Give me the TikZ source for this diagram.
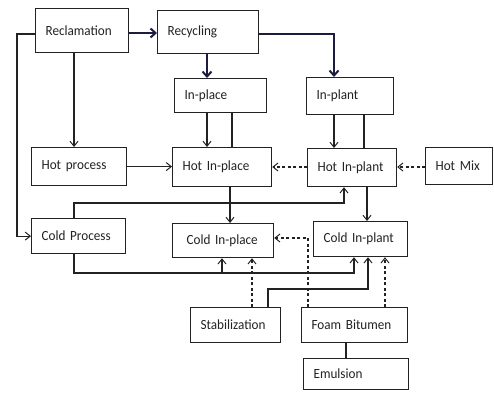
\documentclass[tikz,border=0pt]{standalone}
\usepackage{fontspec}
\setmainfont{Carlito}[FakeStretch=0.94]
\usetikzlibrary{arrows.meta}
\definecolor{ink}{HTML}{222222}
\definecolor{navy}{HTML}{1C1C40}
\hyphenpenalty=10000
\exhyphenpenalty=10000
\begin{document}
\begin{tikzpicture}[x=1pt,y=-1pt,
  box/.style={draw=ink, line width=1.2pt, rectangle, anchor=north west, inner xsep=10pt, inner ysep=0pt, align=left, text=ink, font=\fontsize{14}{16}\selectfont},
  conn/.style={draw=ink, line width=1.2pt},
  arr/.style={conn, -{Straight Barb[length=5pt,width=8pt,line width=1pt]}},
  darr/.style={arr, dashed, dash pattern=on 3pt off 2.5pt},
  thickarr/.style={draw=navy, line width=2.4pt, -{Straight Barb[length=5pt,width=9pt,line width=2pt]}}]
\useasboundingbox (0,0) rectangle (494,393);
% boxes
\node[box, text width=73pt, minimum height=44pt] (recl) at (35,8) {Reclamation};
\node[box, text width=81pt, minimum height=43pt] (recy) at (157,10) {Recycling};
\node[box, text width=72pt, minimum height=34pt] (inplace) at (174,78) {In-place};
\node[box, text width=67pt, minimum height=37pt] (inplant) at (306,77) {In-plant};
\node[box, text width=75pt, minimum height=38pt] (hotproc) at (31,147) {Hot process};
\node[box, text width=79pt, minimum height=39pt] (hotinplace) at (172,147) {Hot In-place};
\node[box, text width=69pt, minimum height=38pt] (hotinplant) at (307,148) {Hot In-plant};
\node[box, text width=47pt, minimum height=37pt] (hotmix) at (425,147) {Hot Mix};
\node[box, text width=74pt, minimum height=35pt] (coldproc) at (31,218) {Cold Process};
\node[box, minimum height=34pt, inner xsep=14pt, text width=73pt] (coldinplace) at (172,223) {Cold In-place};
\node[box, text width=74pt, minimum height=35pt] (coldinplant) at (313,221) {Cold In-plant};
\node[box, text width=70pt, minimum height=35pt] (stab) at (190,307) {Stabilization};
\node[box, text width=86pt, minimum height=35pt] (foam) at (301,307) {Foam Bitumen};
\node[box, text width=85pt, minimum height=31pt] (emul) at (303,358) {Emulsion};
% corner coordinates
\coordinate (rL) at (17,34);
\coordinate (cpTop) at (74,203);
\coordinate (cpBot) at (74,273);
\coordinate (stTurn) at (268,289);
\coordinate (fbTurn) at (308,238);
% thick recycling arrows
\draw[thickarr] (recl.east |- 0,33) -- (recy.west |- 0,33);
\draw[thickarr] (recy.east |- 0,34) -| (334,0 |- inplant.north);
\draw[thickarr] (207,0 |- recy.south) -- (207,0 |- inplace.north);
% reclamation branches
\draw[arr] (74,0 |- recl.south) -- (74,0 |- hotproc.north);
\draw[arr] (recl.west |- rL) -- (rL) |- (coldproc.west);
% hot level
\draw[arr] (hotproc.east) -- (hotproc.east -| hotinplace.west);
\draw[arr] (207,0 |- inplace.south) -- (207,0 |- hotinplace.north);
\draw[conn] (232,0 |- inplace.south) -- (232,0 |- hotinplace.north);
\draw[arr] (334,0 |- inplant.south) -- (334,0 |- hotinplant.north);
\draw[conn] (364,0 |- inplant.south) -- (364,0 |- hotinplant.north);
\draw[darr] (hotinplant.west |- 0,167) -- (hotinplace.east |- 0,167);
\draw[darr] (hotmix.west |- 0,167) -- (hotinplant.east |- 0,167);
% cold level
\draw[arr] (230,0 |- hotinplace.south) -- (230,0 |- coldinplace.north);
\draw[arr] (367,0 |- hotinplant.south) -- (367,0 |- coldinplant.north);
\draw[arr] (74,0 |- coldproc.north) -- (cpTop) -| (344,0 |- hotinplant.south);
\draw[arr] (74,0 |- coldproc.south) -- (cpBot) -| (354,0 |- coldinplant.south);
\draw[arr] (222,0 |- cpBot) -- (222,0 |- coldinplace.south);
\draw[darr] (308,0 |- foam.north) -- (fbTurn) -- (fbTurn -| coldinplace.east);
% bottom inputs
\draw[darr] (252,0 |- stab.north) -- (252,0 |- coldinplace.south);
\draw[arr] (stTurn |- stab.north) -- (stTurn) -| (368,0 |- coldinplant.south);
\draw[darr] (385,0 |- foam.north) -- (385,0 |- coldinplant.south);
\draw[conn] (346,0 |- foam.south) -- (346,0 |- emul.north);
\end{tikzpicture}
\end{document}
